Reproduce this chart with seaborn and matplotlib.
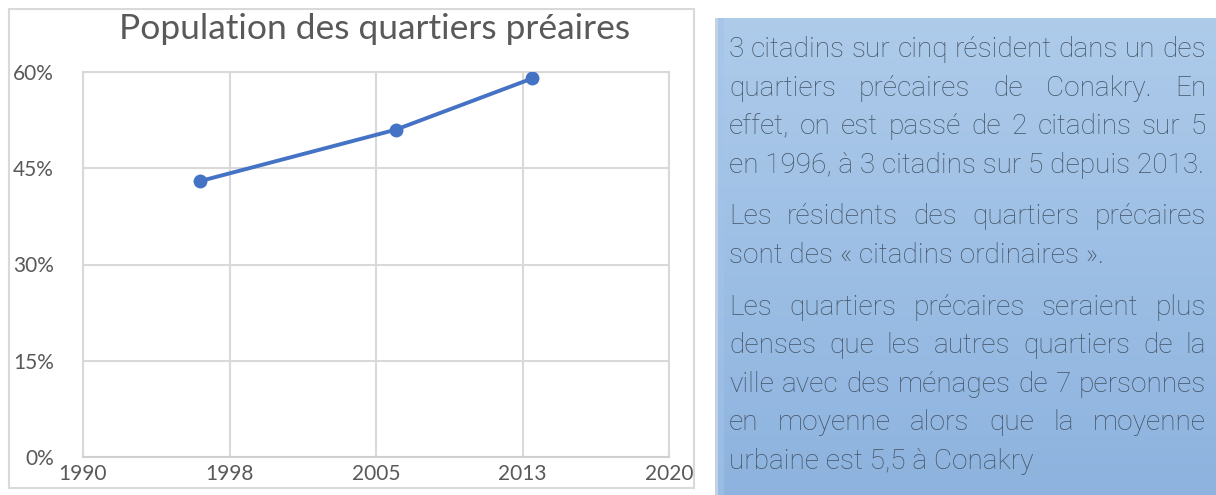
import matplotlib
matplotlib.use("Agg")
import matplotlib.pyplot as plt
import seaborn as sns
import pandas as pd
import numpy as np
from matplotlib.patches import Rectangle
from matplotlib.colors import LinearSegmentedColormap

# ---------------- data ----------------
years = [1996, 2006, 2013]
share = [0.43, 0.51, 0.59]
x_ticks = [1990, 1997.5, 2005, 2012.5, 2020]
x_labels = ["1990", "1998", "2005", "2013", "2020"]
y_ticks = [0.0, 0.15, 0.30, 0.45, 0.60]
y_labels = ["0%", "15%", "30%", "45%", "60%"]
title = "Population des quartiers préaires"

paragraphs = [
    ["3 citadins sur cinq résident dans un des",
     "quartiers précaires de Conakry. En",
     "effet, on est passé de 2 citadins sur 5",
     "en 1996, à 3 citadins sur 5 depuis 2013."],
    ["Les résidents des quartiers précaires",
     "sont des « citadins ordinaires »."],
    ["Les quartiers précaires seraient plus",
     "denses que les autres quartiers de la",
     "ville avec des ménages de 7 personnes",
     "en moyenne alors que la moyenne",
     "urbaine est 5,5 à Conakry"],
]

# ---------------- style ----------------
sns.set_theme(style="white")
plt.rcParams['font.family'] = ['Lato', 'DejaVu Sans']

W, H = 1216, 495
fig = plt.figure(figsize=(W / 100, H / 100), dpi=100)
fig.patch.set_facecolor("white")

GRID = "#d9d9d9"
LABEL = "#595959"

# chart outer border
fig.patches.append(Rectangle((9 / W, 1 - 488 / H), (694 - 9) / W, (488 - 9) / H,
                             transform=fig.transFigure, fill=False,
                             ec=GRID, lw=1.5, zorder=0))

ax = fig.add_axes([83 / W, 38 / H, 586 / W, 385 / H])
df = pd.DataFrame({"year": years, "share": share})
sns.lineplot(data=df, x="year", y="share", ax=ax, color="#4472C4", lw=2.8,
             marker="o", markersize=10, markeredgewidth=0, zorder=5)
ax.set_xlim(1990, 2020)
ax.set_ylim(0, 0.6)
ax.set_xticks(x_ticks, x_labels)
ax.set_yticks(y_ticks, y_labels)
ax.grid(True, color=GRID, lw=1.5)
for s in ax.spines.values():
    s.set_color(GRID)
    s.set_linewidth(1.5)
ax.spines["bottom"].set_color("#cfcfcf")
ax.set_xlabel("")
ax.set_ylabel("")
ax.tick_params(axis="both", length=0, labelsize=15, colors=LABEL)
ax.tick_params(axis="y", pad=21)
ax.tick_params(axis="x", pad=5)

fig.text(375 / W, 1 - 29 / H, title, ha="center", va="center",
         fontsize=25.5, color=LABEL)

# ---------------- text box ----------------
box_left, box_top = 715, 18
bax = fig.add_axes([box_left / W, 0, (W - box_left) / W, (H - box_top) / H])
bax.axis("off")
cmap = LinearSegmentedColormap.from_list("bg", ["#aecbea", "#9dbfe5", "#8db3de"])
grad = np.linspace(0, 1, 256).reshape(-1, 1)
bax.imshow(grad, aspect="auto", cmap=cmap, extent=[0, 1, 0, 1], origin="upper")
bw = W - box_left
bax.add_patch(Rectangle((0, 0), 3 / bw, 1, transform=bax.transAxes,
                        color="#c3d1e0", lw=0, zorder=3))
bax.add_patch(Rectangle((3 / bw, 0), 6 / bw, 1, transform=bax.transAxes,
                        color="#a2c3ea", alpha=0.6, lw=0, zorder=3))
bax.set_xlim(0, 1)
bax.set_ylim(0, 1)

TXT = "#435365"
TFONT = ["Roboto", "DejaVu Sans"]
tx_left, tx_right = 729, 1206
first_base, step, para_gap = 57, 38.6, 13

renderer = fig.canvas.get_renderer()


def width_of(s, fs):
    t = fig.text(0, 0, s, fontsize=fs, family=TFONT, fontweight="light")
    w = t.get_window_extent(renderer).width
    t.remove()
    return w


# calibrate font size so the longest natural line fills the column
ref_line = paragraphs[0][3]
fs = 16 * (tx_right - tx_left) / width_of(ref_line, 16)

y = first_base
for p in paragraphs:
    for i, line in enumerate(p):
        words = line.split(" ")
        last = (i == len(p) - 1)
        if last or len(words) == 1:
            fig.text(tx_left / W, 1 - y / H, line, fontsize=fs, family=TFONT,
                     fontweight="light", color=TXT, ha="left", va="baseline")
        else:
            widths = [width_of(w_, fs) for w_ in words]
            gap = (tx_right - tx_left - sum(widths)) / (len(words) - 1)
            x = tx_left
            for w_, wd in zip(words, widths):
                fig.text(x / W, 1 - y / H, w_, fontsize=fs, family=TFONT,
                         fontweight="light", color=TXT, ha="left", va="baseline")
                x += wd + gap
        y += step
    y += para_gap

fig.savefig("out.png", dpi=100, facecolor="white")
